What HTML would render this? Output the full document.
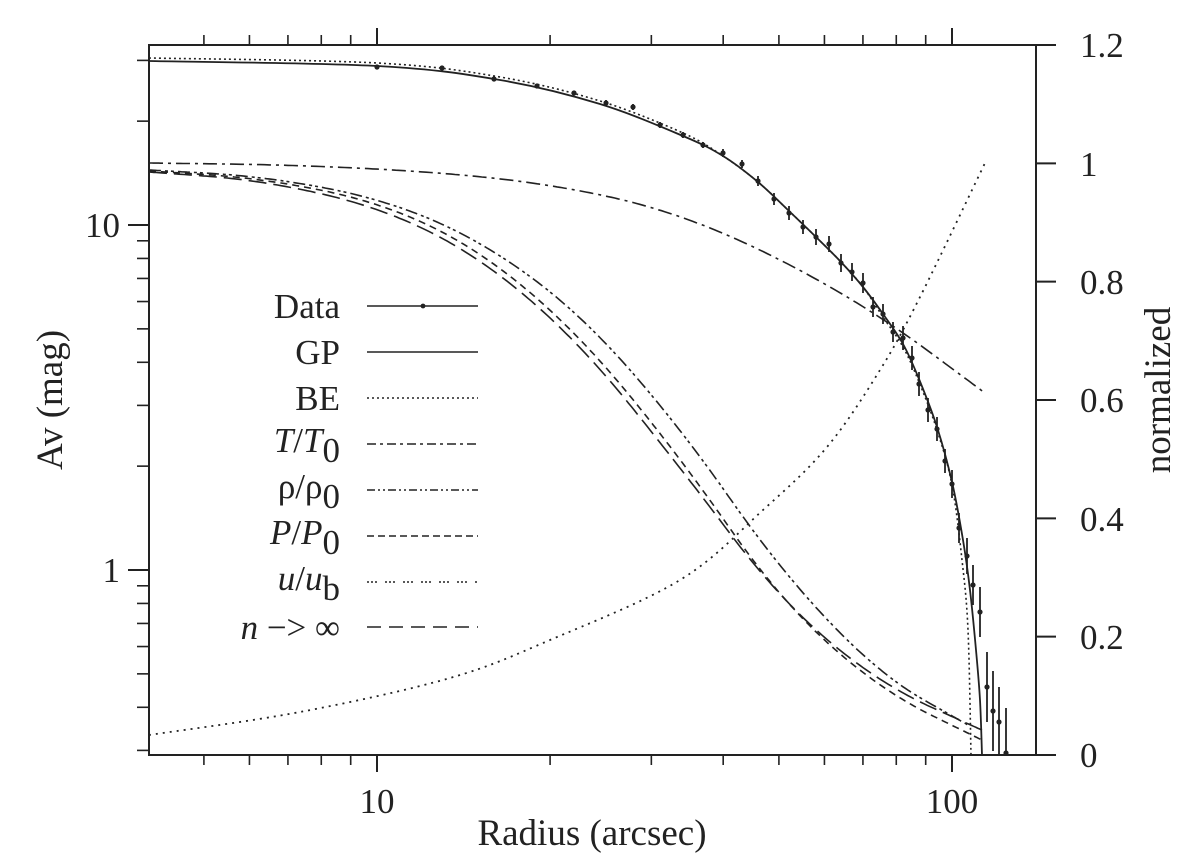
<!DOCTYPE html><html><head><meta charset="utf-8"><style>
html,body{margin:0;padding:0;background:#fff}
svg{display:block}
text{font-family:"Liberation Serif","DejaVu Serif",serif;fill:#222}
</style></head><body>
<svg id="s" width="1186" height="863" viewBox="0 0 1186 863" xmlns="http://www.w3.org/2000/svg">
<g id="g" fill="none" stroke="#222" stroke-width="1.6"></g>
<rect x="149" y="45" width="887" height="710" fill="none" stroke="#222" stroke-width="2"/>
<text x="120" y="237" font-size="35" text-anchor="end">10</text>
<text x="120" y="582" font-size="35" text-anchor="end">1</text>
<text x="377" y="813" font-size="35" text-anchor="middle">10</text>
<text x="952" y="813" font-size="35" text-anchor="middle">100</text>
<text x="1080" y="767" font-size="35">0</text>
<text x="1080" y="649" font-size="35">0.2</text>
<text x="1080" y="531" font-size="35">0.4</text>
<text x="1080" y="412" font-size="35">0.6</text>
<text x="1080" y="294" font-size="35">0.8</text>
<text x="1080" y="176" font-size="35">1</text>
<text x="1080" y="57" font-size="35">1.2</text>
<text x="592" y="845" font-size="37" text-anchor="middle">Radius (arcsec)</text>
<text transform="translate(62,400) rotate(-90)" font-size="37" text-anchor="middle">Av (mag)</text>
<text transform="translate(1170,390) rotate(-90)" font-size="37" text-anchor="middle">normalized</text>
<g font-size="35" text-anchor="end">
<text x="340" y="318">Data</text>
<text x="340" y="364">GP</text>
<text x="340" y="410">BE</text>
<text x="340" y="452"><tspan font-style="italic">T</tspan>/<tspan font-style="italic">T</tspan><tspan dy="10">0</tspan></text>
<text x="340" y="498">ρ/ρ<tspan dy="10">0</tspan></text>
<text x="340" y="544"><tspan font-style="italic">P</tspan>/<tspan font-style="italic">P</tspan><tspan dy="10">0</tspan></text>
<text x="340" y="590"><tspan font-style="italic">u</tspan>/<tspan font-style="italic">u</tspan><tspan dy="10">b</tspan></text>
<text x="340" y="639"><tspan font-style="italic">n</tspan> −&gt; ∞</text>
</g>
</svg>
<script>
var g=document.getElementById('g'),NS='http://www.w3.org/2000/svg';
function el(t,a){var e=document.createElementNS(NS,t);for(var k in a)e.setAttribute(k,a[k]);g.appendChild(e);return e;}
function ln(x1,y1,x2,y2,w){el('line',{x1:x1,y1:y1,x2:x2,y2:y2,'stroke-width':w||1.6});}
function Y(a){return 225-345*Math.log10(a/10);}
function X(r){return 377+575*Math.log10(r/10);}
[1,10].forEach(function(v){ln(128,Y(v),149,Y(v),2);});
[0.3,0.4,0.5,0.6,0.7,0.8,0.9,2,3,4,5,6,7,8,9,20,30].forEach(function(v){var y=Y(v);if(y>46&&y<754)ln(137,y,149,y);});
[10,100].forEach(function(v){ln(X(v),755,X(v),772,2);ln(X(v),45,X(v),28,2);});
[5,6,7,8,9,20,30,40,50,60,70,80,90].forEach(function(v){var x=X(v);ln(x,755,x,765);ln(x,45,x,35);});
for(var i=0;i<=6;i++){var y=755-i*118.33;ln(1036,y,1056,y,2);}
function path(p,dash,w){var d='M'+p[0][0]+','+p[0][1];for(var i=0;i<p.length-1;i++){var p0=p[i-1]||p[i],p1=p[i],p2=p[i+1],p3=p[i+2]||p2;
d+=' C'+(p1[0]+(p2[0]-p0[0])/6)+','+(p1[1]+(p2[1]-p0[1])/6)+' '+(p2[0]-(p3[0]-p1[0])/6)+','+(p2[1]-(p3[1]-p1[1])/6)+' '+p2[0]+','+p2[1];}
var a={d:d,'stroke-width':w||1.5};if(dash)a['stroke-dasharray']=dash;el('path',a);}
function chaikin(p,n){for(var k=0;k<n;k++){var q=[p[0]];for(var i=0;i<p.length-1;i++){var a=p[i],b=p[i+1];q.push([0.75*a[0]+0.25*b[0],0.75*a[1]+0.25*b[1]],[0.25*a[0]+0.75*b[0],0.25*a[1]+0.75*b[1]]);}q.push(p[p.length-1]);p=q;}return p;}
function spath(p,dash,w){p=chaikin(p,5);var d='M'+p.map(function(q){return q[0].toFixed(1)+','+q[1].toFixed(1);}).join(' L');var a={d:d,'stroke-width':w||1.5};if(dash)a['stroke-dasharray']=dash;el('path',a);}
var GP=[[149,61],[377,66],[500,80],[600,104],[683,136],[723,156],[758,182],[789,211],[816,237],[841,262],[863,287],[883,314],[903,344],[919,379],[937,427],[952,482],[963,540],[970,590],[976,650],[980,700],[982,755]];
path(GP,null,1.8);
var BE=GP.slice(0,16).map(function(p){return [p[0],p[1]-(p[0]<700?3:(p[0]>880?-3:0))];});BE.push([962,560],[968,630],[971,755]);
path(BE,'2,3',1.6);
spath([[149,163],[300,165],[450,173],[560,186],[660,208],[760,248],[877,313],[985,393]],'14,5,3,5',1.6);
spath([[149,170],[260,176],[380,198],[480,240],[580,313],[680,427],[780,570],[880,675],[968,725]],'12,4,3,3,3,4',1.6);
spath([[149,171],[260,178],[380,202],[480,250],[580,335],[680,457],[780,600],[880,690],[984,741]],'7,5',1.6);
spath([[149,172],[260,180],[380,207],[480,257],[580,343],[680,467],[780,600],[880,684],[984,731]],'18,7',1.6);
path([[149,735],[300,712],[450,678],[550,640],[680,580],[763,510],[827,447],[880,370],[920,297],[985,163]],'2,5',1.8);
var D=[[377,67,2],[442,68,2],[494,79,2],[537,86,2],[574,93,2],[606,103,3],[633,107,3],[660,125,3],[683,135,3],[703,145,3],[723,153,4],[742,164,4],[758,181,5],[774,199,6],[789,213,7],[803,227,7],[816,237,8],[829,244,8],[841,263,9],[852,272,9],[863,283,10],[873,307,10],[883,314,10],[893,332,10],[903,338,12],[912,358,12],[919,384,12],[928,410,12],[937,429,12],[945,461,12],[952,484,14],[959,528,15],[967,556,18],[973,585,20],[980,612,25],[987,687,35],[993,711,40],[999,722,35],[1006,753,45]];
D.forEach(function(d){ln(d[0],d[1]-d[2],d[0],Math.min(755,d[1]+d[2]),1.8);el('circle',{cx:d[0],cy:d[1],r:2.6,fill:'#222',stroke:'none'});});
ln(367,306,478,306,1.6);el('circle',{cx:423,cy:306,r:2.4,fill:'#222',stroke:'none'});
ln(367,352,478,352,1.6);
var L=[[398,'2,3'],[444,'9,4,3,4'],[490,'8,3,2,3,2,3'],[536,'7,4'],[582,'2,2,2,2,2,8'],[627,'14,8']];
L.forEach(function(l){el('line',{x1:367,y1:l[0],x2:478,y2:l[0],'stroke-dasharray':l[1],'stroke-width':1.5});});
</script>
</body></html>
